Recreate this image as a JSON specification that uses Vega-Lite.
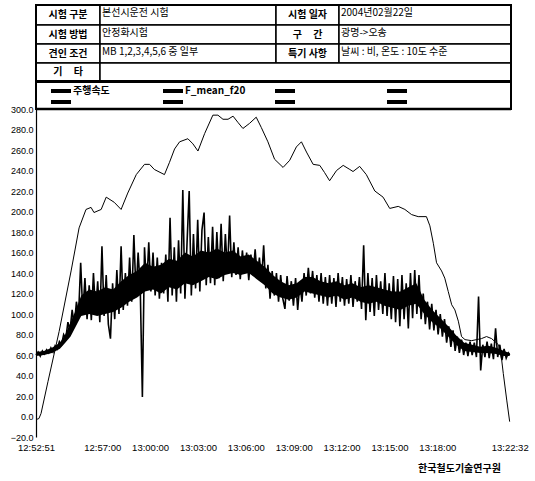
{
"$schema": "https://vega.github.io/schema/vega-lite/v6.json",
"background": "white",
"padding": {"left": 10, "top": 4, "right": 5, "bottom": 2},
"bounds": "flush",
"spacing": 0,
"config": {"view": {"stroke": null}, "font": "Noto Sans CJK KR", "axis": {"labelOverlap": false, "labelSeparation": 0}},
"datasets": {
"cells": [
{"x0":0,"x1":64,"y0":0,"y1":20,"t":"시험 구분","k":"label"},
{"x0":64,"x1":240,"y0":0,"y1":20,"t":"본선시운전 시험","k":"value"},
{"x0":240,"x1":303,"y0":0,"y1":20,"t":"시험 일자","k":"label"},
{"x0":303,"x1":475,"y0":0,"y1":20,"t":"2004년02월22일","k":"value"},
{"x0":0,"x1":64,"y0":20,"y1":39,"t":"시험 방법","k":"label"},
{"x0":64,"x1":240,"y0":20,"y1":39,"t":"안정화시험","k":"value"},
{"x0":240,"x1":303,"y0":20,"y1":39,"t":"구\u00a0\u00a0\u00a0\u00a0\u00a0간","k":"label"},
{"x0":303,"x1":475,"y0":20,"y1":39,"t":"광명->오송","k":"value"},
{"x0":0,"x1":64,"y0":39,"y1":58,"t":"견인 조건","k":"label"},
{"x0":64,"x1":240,"y0":39,"y1":58,"t":"MB 1,2,3,4,5,6 중 일부","k":"value"},
{"x0":240,"x1":303,"y0":39,"y1":58,"t":"특기 사항","k":"label"},
{"x0":303,"x1":475,"y0":39,"y1":58,"t":"날씨 : 비, 온도 : 10도 수준","k":"value"},
{"x0":0,"x1":64,"y0":58,"y1":76,"t":"기\u00a0\u00a0\u00a0\u00a0\u00a0타","k":"label"},
{"x0":64,"x1":475,"y0":58,"y1":76,"t":"","k":"value"}
],
"legend": [
{"n":"주행속도","c":0,"r":0},{"n":"F_mean_f20","c":1,"r":0},{"n":"","c":2,"r":0},{"n":"","c":3,"r":0},
{"n":"","c":0,"r":1},{"n":"","c":1,"r":1},{"n":"","c":2,"r":1},{"n":"","c":3,"r":1}
],
"frame": [{"a":0,"b":475,"top":0,"bot":104}],
"core": [
{"s":0,"lo":59,"hi":63},{"s":30,"lo":60,"hi":64},{"s":60,"lo":62,"hi":67},{"s":90,"lo":66,"hi":72},{"s":110,"lo":72,"hi":80},{"s":130,"lo":78,"hi":92},{"s":150,"lo":88,"hi":104},{"s":170,"lo":98,"hi":118},{"s":200,"lo":100,"hi":124},{"s":230,"lo":98,"hi":122},{"s":260,"lo":100,"hi":126},{"s":290,"lo":102,"hi":124},{"s":320,"lo":106,"hi":132},{"s":350,"lo":112,"hi":138},{"s":380,"lo":116,"hi":142},{"s":410,"lo":122,"hi":150},{"s":440,"lo":124,"hi":146},{"s":470,"lo":120,"hi":148},{"s":500,"lo":126,"hi":154},{"s":530,"lo":124,"hi":152},{"s":560,"lo":130,"hi":160},{"s":590,"lo":128,"hi":156},{"s":620,"lo":132,"hi":162},{"s":650,"lo":136,"hi":160},{"s":680,"lo":134,"hi":164},{"s":710,"lo":138,"hi":160},{"s":740,"lo":140,"hi":162},{"s":770,"lo":138,"hi":156},{"s":800,"lo":140,"hi":158},{"s":830,"lo":134,"hi":152},{"s":860,"lo":128,"hi":146},{"s":890,"lo":120,"hi":138},{"s":920,"lo":116,"hi":132},{"s":950,"lo":114,"hi":128},{"s":980,"lo":116,"hi":130},{"s":1010,"lo":122,"hi":136},{"s":1040,"lo":120,"hi":136},{"s":1070,"lo":118,"hi":132},{"s":1100,"lo":116,"hi":130},{"s":1130,"lo":118,"hi":132},{"s":1160,"lo":114,"hi":128},{"s":1190,"lo":116,"hi":130},{"s":1220,"lo":112,"hi":126},{"s":1250,"lo":110,"hi":128},{"s":1280,"lo":112,"hi":126},{"s":1310,"lo":108,"hi":124},{"s":1340,"lo":106,"hi":122},{"s":1370,"lo":104,"hi":122},{"s":1400,"lo":108,"hi":126},{"s":1430,"lo":110,"hi":130},{"s":1460,"lo":100,"hi":114},{"s":1490,"lo":92,"hi":104},{"s":1520,"lo":86,"hi":96},{"s":1550,"lo":78,"hi":88},{"s":1580,"lo":70,"hi":79},{"s":1610,"lo":64,"hi":72},{"s":1640,"lo":63,"hi":70},{"s":1670,"lo":62,"hi":68},{"s":1700,"lo":62,"hi":69},{"s":1730,"lo":61,"hi":67},{"s":1760,"lo":59,"hi":64},{"s":1781,"lo":59,"hi":62}
],
"speed": [
{"s":0,"v":-3},{"s":11,"v":-2},{"s":19,"v":3},{"s":45,"v":34},{"s":87,"v":83},{"s":132,"v":142},{"s":162,"v":184},{"s":188,"v":202},{"s":207,"v":204},{"s":218,"v":199},{"s":245,"v":202},{"s":264,"v":214},{"s":294,"v":209},{"s":320,"v":202},{"s":345,"v":218},{"s":377,"v":236},{"s":408,"v":246},{"s":427,"v":246},{"s":445,"v":241},{"s":483,"v":236},{"s":502,"v":248},{"s":521,"v":261},{"s":540,"v":268},{"s":571,"v":271},{"s":590,"v":266},{"s":609,"v":259},{"s":634,"v":276},{"s":665,"v":294},{"s":684,"v":294},{"s":703,"v":290},{"s":722,"v":290},{"s":741,"v":293},{"s":759,"v":287},{"s":778,"v":281},{"s":803,"v":286},{"s":828,"v":292},{"s":847,"v":282},{"s":872,"v":268},{"s":897,"v":251},{"s":929,"v":243},{"s":954,"v":250},{"s":979,"v":263},{"s":998,"v":268},{"s":1017,"v":258},{"s":1042,"v":246},{"s":1067,"v":245},{"s":1085,"v":238},{"s":1104,"v":230},{"s":1130,"v":240},{"s":1155,"v":245},{"s":1180,"v":241},{"s":1192,"v":239},{"s":1217,"v":244},{"s":1242,"v":236},{"s":1274,"v":220},{"s":1305,"v":214},{"s":1330,"v":203},{"s":1362,"v":205},{"s":1387,"v":202},{"s":1412,"v":197},{"s":1437,"v":195},{"s":1468,"v":195},{"s":1481,"v":186},{"s":1494,"v":169},{"s":1506,"v":150},{"s":1525,"v":142},{"s":1537,"v":135},{"s":1550,"v":122},{"s":1563,"v":109},{"s":1575,"v":104},{"s":1588,"v":93},{"s":1600,"v":78},{"s":1613,"v":75},{"s":1638,"v":74},{"s":1675,"v":76},{"s":1694,"v":78},{"s":1713,"v":76},{"s":1739,"v":70},{"s":1751,"v":55},{"s":1757,"v":42},{"s":1770,"v":16},{"s":1781,"v":-5}
],
"force": [
{"s":0,"v":60},{"s":8,"v":63},{"s":16,"v":59},{"s":24,"v":64},{"s":32,"v":61},{"s":40,"v":65},{"s":48,"v":62},{"s":56,"v":67},{"s":64,"v":63},{"s":72,"v":69},{"s":80,"v":66},{"s":88,"v":73},{"s":96,"v":70},{"s":104,"v":80},{"s":112,"v":76},{"s":120,"v":92},{"s":128,"v":84},{"s":136,"v":104},{"s":144,"v":88},{"s":152,"v":112},{"s":160,"v":98},{"s":168,"v":150},{"s":176,"v":100},{"s":184,"v":135},{"s":192,"v":95},{"s":200,"v":128},{"s":208,"v":94},{"s":216,"v":140},{"s":224,"v":102},{"s":232,"v":132},{"s":240,"v":92},{"s":248,"v":166},{"s":256,"v":98},{"s":264,"v":138},{"s":272,"v":90},{"s":280,"v":76},{"s":288,"v":130},{"s":296,"v":95},{"s":304,"v":143},{"s":312,"v":100},{"s":320,"v":166},{"s":328,"v":104},{"s":336,"v":140},{"s":344,"v":108},{"s":352,"v":155},{"s":360,"v":112},{"s":368,"v":177},{"s":376,"v":120},{"s":384,"v":160},{"s":392,"v":125},{"s":400,"v":19},{"s":408,"v":165},{"s":416,"v":125},{"s":424,"v":170},{"s":432,"v":122},{"s":440,"v":160},{"s":448,"v":118},{"s":456,"v":155},{"s":464,"v":115},{"s":472,"v":150},{"s":480,"v":120},{"s":488,"v":158},{"s":496,"v":112},{"s":504,"v":194},{"s":512,"v":118},{"s":520,"v":165},{"s":528,"v":112},{"s":536,"v":172},{"s":544,"v":120},{"s":552,"v":221},{"s":560,"v":115},{"s":568,"v":170},{"s":576,"v":220},{"s":584,"v":118},{"s":592,"v":178},{"s":600,"v":125},{"s":608,"v":192},{"s":616,"v":122},{"s":624,"v":182},{"s":632,"v":199},{"s":640,"v":128},{"s":648,"v":175},{"s":656,"v":130},{"s":664,"v":185},{"s":672,"v":128},{"s":680,"v":180},{"s":688,"v":135},{"s":696,"v":188},{"s":704,"v":132},{"s":712,"v":178},{"s":720,"v":140},{"s":728,"v":196},{"s":736,"v":136},{"s":744,"v":170},{"s":752,"v":138},{"s":760,"v":165},{"s":768,"v":134},{"s":776,"v":162},{"s":784,"v":140},{"s":792,"v":160},{"s":800,"v":133},{"s":808,"v":158},{"s":816,"v":138},{"s":824,"v":163},{"s":832,"v":135},{"s":840,"v":155},{"s":848,"v":132},{"s":856,"v":167},{"s":864,"v":125},{"s":872,"v":148},{"s":880,"v":115},{"s":888,"v":142},{"s":896,"v":118},{"s":904,"v":140},{"s":912,"v":112},{"s":920,"v":138},{"s":928,"v":115},{"s":936,"v":105},{"s":944,"v":137},{"s":952,"v":113},{"s":960,"v":132},{"s":968,"v":108},{"s":976,"v":135},{"s":984,"v":104},{"s":992,"v":130},{"s":1000,"v":112},{"s":1008,"v":140},{"s":1016,"v":118},{"s":1024,"v":145},{"s":1032,"v":120},{"s":1040,"v":142},{"s":1048,"v":116},{"s":1056,"v":138},{"s":1064,"v":112},{"s":1072,"v":140},{"s":1080,"v":110},{"s":1088,"v":136},{"s":1096,"v":108},{"s":1104,"v":138},{"s":1112,"v":110},{"s":1120,"v":135},{"s":1128,"v":107},{"s":1136,"v":140},{"s":1144,"v":112},{"s":1152,"v":136},{"s":1160,"v":108},{"s":1168,"v":134},{"s":1176,"v":110},{"s":1184,"v":138},{"s":1192,"v":107},{"s":1200,"v":132},{"s":1208,"v":112},{"s":1216,"v":136},{"s":1224,"v":105},{"s":1232,"v":167},{"s":1240,"v":94},{"s":1248,"v":140},{"s":1256,"v":102},{"s":1264,"v":135},{"s":1272,"v":98},{"s":1280,"v":138},{"s":1288,"v":104},{"s":1296,"v":132},{"s":1304,"v":100},{"s":1312,"v":140},{"s":1320,"v":98},{"s":1328,"v":130},{"s":1336,"v":95},{"s":1344,"v":137},{"s":1352,"v":92},{"s":1360,"v":134},{"s":1368,"v":88},{"s":1376,"v":138},{"s":1384,"v":95},{"s":1392,"v":130},{"s":1400,"v":86},{"s":1408,"v":140},{"s":1416,"v":96},{"s":1424,"v":143},{"s":1432,"v":100},{"s":1440,"v":138},{"s":1448,"v":95},{"s":1456,"v":120},{"s":1464,"v":90},{"s":1472,"v":112},{"s":1480,"v":85},{"s":1488,"v":110},{"s":1496,"v":84},{"s":1504,"v":104},{"s":1512,"v":80},{"s":1520,"v":100},{"s":1528,"v":78},{"s":1536,"v":95},{"s":1544,"v":72},{"s":1552,"v":88},{"s":1560,"v":68},{"s":1568,"v":84},{"s":1576,"v":64},{"s":1584,"v":78},{"s":1592,"v":62},{"s":1600,"v":75},{"s":1608,"v":60},{"s":1616,"v":72},{"s":1624,"v":59},{"s":1632,"v":73},{"s":1640,"v":60},{"s":1648,"v":72},{"s":1656,"v":58},{"s":1664,"v":117},{"s":1672,"v":45},{"s":1680,"v":70},{"s":1688,"v":58},{"s":1696,"v":73},{"s":1704,"v":57},{"s":1712,"v":71},{"s":1720,"v":56},{"s":1728,"v":86},{"s":1736,"v":58},{"s":1744,"v":70},{"s":1752,"v":55},{"s":1760,"v":66},{"s":1768,"v":57},{"s":1776,"v":62},{"s":1781,"v":60}
]
},
"vconcat": [
{
"width": 475, "height": 104,
"layer": [
{"data": {"name": "cells"},
 "mark": {"type": "rect", "fill": "white", "stroke": "black", "strokeWidth": 1.5},
 "encoding": {
  "x": {"field": "x0", "type": "quantitative", "scale": {"domain": [0, 475], "nice": false, "zero": false}, "axis": null},
  "x2": {"field": "x1"},
  "y": {"field": "y0", "type": "quantitative", "scale": {"domain": [0, 104], "nice": false, "zero": false, "reverse": true}, "axis": null},
  "y2": {"field": "y1"}}},
{"data": {"name": "frame"},
 "mark": {"type": "rect", "fillOpacity": 0, "stroke": "black", "strokeWidth": 2},
 "encoding": {"x": {"field": "a", "type": "quantitative"}, "x2": {"field": "b"}, "y": {"field": "top", "type": "quantitative"}, "y2": {"field": "bot"}}},
{"data": {"name": "frame"},
 "mark": {"type": "rule", "stroke": "black", "strokeWidth": 3},
 "encoding": {"x": {"field": "a", "type": "quantitative"}, "x2": {"field": "b"}, "y": {"datum": 76.5, "type": "quantitative"}}},
{"data": {"name": "frame"},
 "mark": {"type": "rule", "stroke": "black", "strokeWidth": 2.5},
 "encoding": {"x": {"field": "a", "type": "quantitative"}, "x2": {"field": "b"}, "y": {"field": "bot", "type": "quantitative"}}},
{"data": {"name": "cells"},
 "transform": [{"filter": "datum.k == 'label'"}, {"calculate": "(datum.x0+datum.x1)/2", "as": "cx"}, {"calculate": "(datum.y0+datum.y1)/2", "as": "cy"}],
 "mark": {"type": "text", "align": "center", "baseline": "middle", "fontSize": 10, "fontWeight": "bold", "color": "black"},
 "encoding": {"x": {"field": "cx", "type": "quantitative"}, "y": {"field": "cy", "type": "quantitative"}, "text": {"field": "t"}}},
{"data": {"name": "cells"},
 "transform": [{"filter": "datum.k == 'value'"}, {"calculate": "(datum.y0+datum.y1)/2", "as": "cy"}],
 "mark": {"type": "text", "align": "left", "baseline": "middle", "fontSize": 10, "dx": 2, "dy": -2, "color": "black"},
 "encoding": {"x": {"field": "x0", "type": "quantitative"}, "y": {"field": "cy", "type": "quantitative"}, "text": {"field": "t"}}},
{"data": {"name": "legend"},
 "transform": [{"calculate": "15 + datum.c*112", "as": "lx"}, {"calculate": "datum.lx + 20", "as": "lx2"}, {"calculate": "86 + datum.r*11", "as": "ly"}],
 "mark": {"type": "rule", "stroke": "black", "strokeWidth": 4},
 "encoding": {"x": {"field": "lx", "type": "quantitative"}, "x2": {"field": "lx2"}, "y": {"field": "ly", "type": "quantitative"}}},
{"data": {"name": "legend"},
 "transform": [{"calculate": "37 + datum.c*112", "as": "tx"}, {"calculate": "86 + datum.r*11", "as": "ly"}],
 "mark": {"type": "text", "align": "left", "baseline": "middle", "fontSize": 10, "fontWeight": "bold", "color": "black"},
 "encoding": {"x": {"field": "tx", "type": "quantitative"}, "y": {"field": "ly", "type": "quantitative"}, "text": {"field": "n"}}}
]
},
{
"width": 475, "height": 328,
"layer": [
{"data": {"name": "core"},
 "mark": {"type": "area", "color": "black", "opacity": 1},
 "encoding": {
  "x": {"field": "s", "type": "quantitative", "scale": {"domain": [0, 1786], "nice": false, "zero": false},
   "axis": {"values": [0, 249, 429, 609, 789, 969, 1149, 1329, 1509, 1781], "tickCount": 12,
    "labelExpr": "timeFormat(datetime(2004,1,22,12,52,51+datum.value),'%H:%M:%S')",
    "domain": false, "ticks": false, "grid": false, "labelOverlap": false, "labelFlush": false,
    "labelFont": "Liberation Sans", "labelFontSize": 9.5, "labelColor": "black", "labelPadding": 5,
    "title": "한국철도기술연구원", "titleFontSize": 10, "titleFontWeight": "bold", "titleColor": "black",
    "titleX": 423, "titleY": 31, "titleAlign": "center", "titleBaseline": "middle"}},
  "y": {"field": "lo", "type": "quantitative", "scale": {"domain": [-20, 300], "nice": false, "zero": false},
   "axis": {"values": [-20, 0, 20, 40, 60, 80, 100, 120, 140, 160, 180, 200, 220, 240, 260, 280, 300], "tickCount": 17, "format": ".1f",
    "domainColor": "black", "domainWidth": 1.2, "ticks": false, "grid": false, "labelOverlap": false, "labelSeparation": 0,
    "labelFont": "Liberation Sans", "labelFontSize": 9, "labelColor": "black", "labelPadding": 3, "title": null}},
  "y2": {"field": "hi"}}},
{"data": {"name": "force"},
 "mark": {"type": "line", "stroke": "black", "strokeWidth": 1.6},
 "encoding": {"x": {"field": "s", "type": "quantitative"}, "y": {"field": "v", "type": "quantitative"}}},
{"data": {"name": "speed"},
 "mark": {"type": "line", "stroke": "black", "strokeWidth": 1},
 "encoding": {"x": {"field": "s", "type": "quantitative"}, "y": {"field": "v", "type": "quantitative"}}}
]
}
]
}
